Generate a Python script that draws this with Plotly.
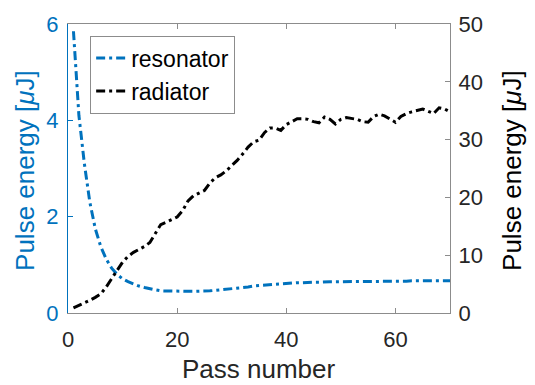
import plotly.graph_objects as go

passes = list(range(1, 71))

resonator = [5.85, 4.1, 3.1, 2.3, 1.75, 1.38, 1.12, 0.93, 0.8, 0.71,
             0.65, 0.6, 0.56, 0.53, 0.5, 0.48, 0.46, 0.455, 0.45, 0.45,
             0.45, 0.45, 0.45, 0.45, 0.45, 0.46, 0.47, 0.48, 0.49, 0.5,
             0.51, 0.53, 0.54, 0.56, 0.57, 0.58, 0.59, 0.6, 0.61, 0.62,
             0.62, 0.63, 0.63, 0.64, 0.64, 0.64, 0.65, 0.65, 0.65, 0.65,
             0.65, 0.65, 0.66, 0.66, 0.66, 0.66, 0.66, 0.66, 0.66, 0.66,
             0.66, 0.66, 0.67, 0.67, 0.67, 0.67, 0.67, 0.67, 0.67, 0.67]

radiator = [0.9, 1.3, 1.8, 2.2, 2.7, 3.3, 4.5, 6.0, 7.5, 8.8,
            9.8, 10.5, 11.0, 11.5, 12.2, 13.8, 15.3, 15.7, 16.1, 16.6,
            17.7, 19.4, 20.3, 20.8, 21.2, 22.5, 23.4, 23.9, 24.6, 25.5,
            26.4, 27.5, 28.7, 29.6, 29.9, 31.2, 32.0, 32.0, 31.6, 32.6,
            33.1, 33.6, 33.6, 33.5, 33.1, 32.9, 33.9, 33.5, 32.7, 33.5,
            33.8, 33.6, 33.5, 33.1, 33.0, 34.0, 34.4, 34.1, 33.6, 33.0,
            34.0, 34.5, 34.8, 35.1, 35.3, 34.9, 34.5, 35.5, 35.3, 34.8]

x_ticks = [0, 20, 40, 60]
y1_ticks = [0, 2, 4, 6]
y2_ticks = [0, 10, 20, 30, 40, 50]

x_title = "Pass number"
y_title = "Pulse energy [<i>μ</i>J]"

BLUE = "#0072BD"
DARK = "#262626"
GRAY = "#8c8c8c"
FONT = "Liberation Sans, Arial, sans-serif"

fig = go.Figure()
fig.add_trace(go.Scatter(x=passes, y=resonator, name="resonator", mode="lines",
                         line=dict(color=BLUE, width=3, dash="9px,4px,3px,4px"),
                         yaxis="y"))
fig.add_trace(go.Scatter(x=passes, y=radiator, name="radiator", mode="lines",
                         line=dict(color="black", width=3, dash="9px,4px,3px,4px"),
                         yaxis="y2"))

fig.update_layout(
    width=535, height=385,
    margin=dict(l=68, r=85, t=20, b=72),
    paper_bgcolor="white", plot_bgcolor="white",
    font=dict(family=FONT, size=22, color=DARK),
    showlegend=True,
    legend=dict(x=0.058, y=0.96, xanchor="left", yanchor="top",
                bgcolor="white", bordercolor=GRAY, borderwidth=1,
                font=dict(size=23, color="black"),
                tracegroupgap=0, itemwidth=30),
    xaxis=dict(range=[0, 70], tickvals=x_ticks, ticks="inside", ticklen=5,
               tickcolor=GRAY, showline=True, linecolor=GRAY, linewidth=1,
               mirror="ticks", showgrid=False, zeroline=False,
               ticklabelstandoff=7,
               tickfont=dict(size=22, color=DARK)),
    yaxis=dict(range=[0, 6], tickvals=y1_ticks, ticks="inside", ticklen=5,
               tickcolor=BLUE, showline=True, linecolor=BLUE, linewidth=1,
               showgrid=False, zeroline=False, ticklabelstandoff=4,
               tickfont=dict(size=22, color=BLUE)),
    yaxis2=dict(range=[0, 50], tickvals=y2_ticks, ticks="inside", ticklen=5,
                tickcolor=GRAY, showline=True, linecolor=GRAY, linewidth=1,
                overlaying="y", side="right", anchor="x",
                showgrid=False, zeroline=False, ticklabelstandoff=3,
                tickfont=dict(size=22, color=DARK)),
    annotations=[
        dict(text=x_title, xref="paper", yref="paper", x=0.5, y=-0.195,
             xanchor="center", yanchor="middle", showarrow=False,
             font=dict(size=26, color=DARK)),
        dict(text=y_title, xref="paper", yref="paper", x=-0.1126, y=0.495,
             xanchor="center", yanchor="middle", showarrow=False, textangle=-90,
             font=dict(size=26, color=BLUE)),
        dict(text=y_title, xref="paper", yref="paper", x=1.1623, y=0.495,
             xanchor="center", yanchor="middle", showarrow=False, textangle=-90,
             font=dict(size=26, color="black")),
    ],
)

fig.write_html("out.html")
